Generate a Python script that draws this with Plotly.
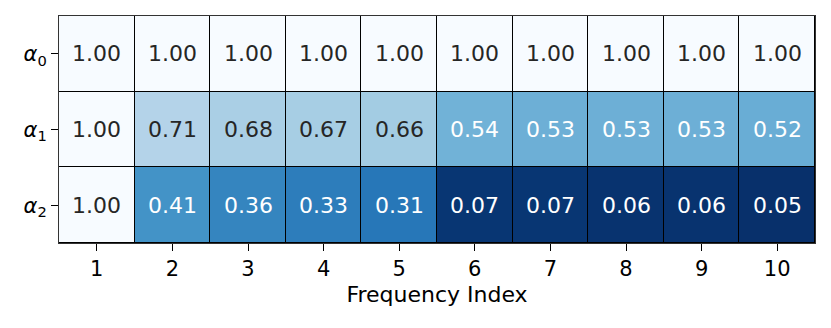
import plotly.graph_objects as go

FREQ = [1, 2, 3, 4, 5, 6, 7, 8, 9, 10]
ROW_LABELS = ["<i>α</i><sub>0</sub>", "<i>α</i><sub>1</sub>", "<i>α</i><sub>2</sub>"]
ALPHA0 = [1.00, 1.00, 1.00, 1.00, 1.00, 1.00, 1.00, 1.00, 1.00, 1.00]
ALPHA1 = [1.00, 0.71, 0.68, 0.67, 0.66, 0.54, 0.53, 0.53, 0.53, 0.52]
ALPHA2 = [1.00, 0.41, 0.36, 0.33, 0.31, 0.07, 0.07, 0.06, 0.06, 0.05]

Z = [ALPHA0, ALPHA1, ALPHA2]
ROWS = [0, 1, 2]

# matplotlib "Blues_r": low value -> dark, high -> light
BLUES = ["#f7fbff", "#deebf7", "#c6dbef", "#9ecae1", "#6baed6",
         "#4292c6", "#2171b5", "#08519c", "#08306b"]
cscale = [[i / 8, c] for i, c in enumerate(BLUES[::-1])]
zmin = min(min(r) for r in Z)

FONT = "DejaVu Sans"
fig = go.Figure(go.Heatmap(
    x=FREQ, y=ROWS, z=Z, colorscale=cscale, zmin=zmin, zmax=1.0,
    showscale=False, xgap=1, ygap=1, hoverinfo="skip"))

for ri, row in zip(ROWS, Z):
    for f, v in zip(FREQ, row):
        fig.add_annotation(x=f, y=ri, text=f"{v:.2f}", showarrow=False,
                           font=dict(family=FONT, size=22,
                                     color="#262626" if v > 0.6 else "white"))

fig.update_layout(
    width=831, height=328,
    margin=dict(l=59, r=16, t=16, b=85),
    paper_bgcolor="white", plot_bgcolor="black",
    font=dict(family=FONT, size=21, color="black"),
    xaxis=dict(tickvals=FREQ, ticks="outside", ticklen=7, tickwidth=1.3,
               tickcolor="black", showgrid=False, zeroline=False,
               range=[0.5, 10.5], showline=True, mirror=True,
               linecolor="#333", linewidth=1,
               title=dict(text="Frequency Index", standoff=6,
                          font=dict(size=22))),
    yaxis=dict(tickvals=ROWS, ticktext=ROW_LABELS, ticks="outside",
               ticklen=7, tickwidth=1.3, tickcolor="black",
               showgrid=False, zeroline=False, range=[2.5, -0.5],
               showline=True, mirror=True, linecolor="#333", linewidth=1),
)

fig.write_html("out.html", config={"displayModeBar": False},
               post_script="document.body.style.margin='0';")
